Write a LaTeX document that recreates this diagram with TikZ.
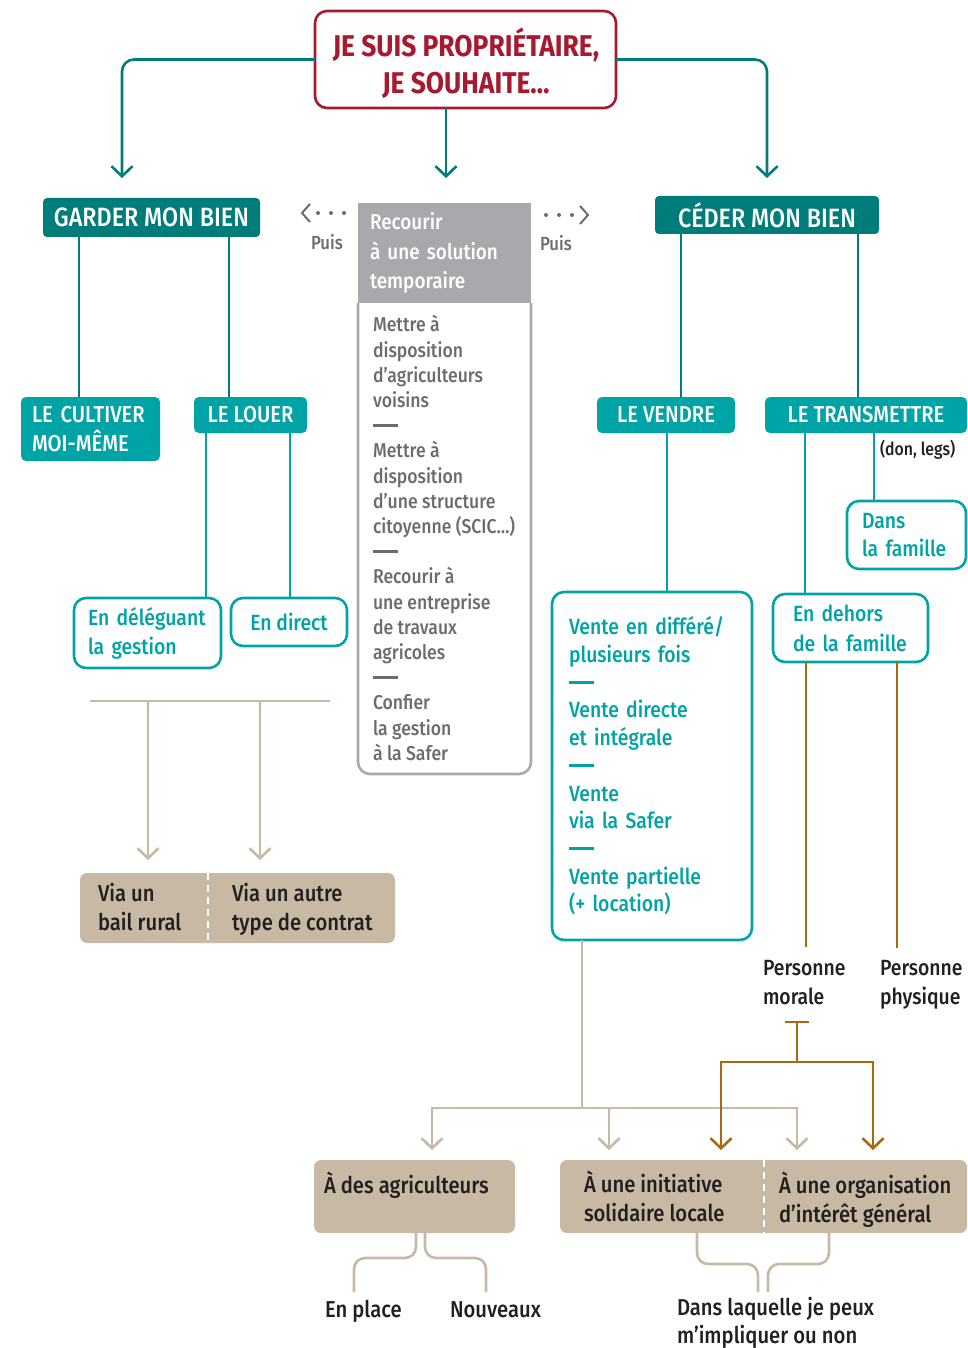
\documentclass[tikz,border=0pt]{standalone}
\usepackage{fontspec}
\setmainfont{Fira Sans Medium}[FakeStretch=0.88, BoldFont={Fira Sans Bold}, BoldFeatures={FakeStretch=0.88}]
\usetikzlibrary{arrows.meta}
\definecolor{dred}{RGB}{166,25,46}
\definecolor{dteal}{RGB}{0,125,122}
\definecolor{lteal}{RGB}{0,163,166}
\definecolor{gbox}{RGB}{167,169,172}
\definecolor{gtxt}{RGB}{108,108,110}
\definecolor{beige}{RGB}{199,185,163}
\definecolor{brown}{RGB}{170,105,15}
\definecolor{dtxt}{RGB}{35,31,32}
\newcommand{\fsz}[2]{\fontsize{#1}{#2}\selectfont}
\newcommand{\sepdash}[1]{\textcolor{#1}{\rule[0.3em]{25pt}{2.4pt}}}
\begin{document}
\begin{tikzpicture}[x=1pt,y=-1pt,
  every node/.style={outer sep=0pt},
  lw/.style={line width=2.6pt},
  tip/.style={-{Straight Barb[length=10pt,width=21pt]}},
  titlebox/.style={draw=dred, line width=2.6pt, rounded corners=12pt, fill=white,
     minimum width=301pt, minimum height=97pt},
  titletxt/.style={text=dred, font=\bfseries\fsz{30}{37}, align=center, inner sep=0pt},
  darkhead/.style={fill=dteal, text=white, rounded corners=4pt, font=\fsz{26.5}{30}, inner sep=0pt, anchor=north west},
  lighthead/.style={fill=lteal, text=white, rounded corners=5pt, font=\fsz{23}{29}, inner sep=0pt, anchor=north west},
  outbox/.style={draw=lteal, line width=2.6pt, rounded corners=12pt, fill=white, text=lteal,
     font=\fsz{22}{29}, align=left, anchor=north west, inner ysep=0pt},
  beigebox/.style={fill=beige, rounded corners=7pt, anchor=north west, inner sep=0pt},
  btxt/.style={text=dtxt, font=\fsz{23}{29.5}, align=left, anchor=west, inner sep=0pt},
  bbase/.style={btxt, anchor=base west},
  gtext/.style={text=gtxt, font=\fsz{19}{24}, inner sep=0pt},
  tline/.style={dteal, lw},
  ltline/.style={lteal, lw},
  bline/.style={beige, lw},
  brline/.style={brown, lw},
  gline/.style={gtxt, line width=4pt, line cap=round},
  wdash/.style={white, line width=2.2pt, dash pattern=on 7pt off 5pt}
]
\useasboundingbox (0,0) rectangle (967,1348);

% ---------- top ----------
\node[titlebox] (top) at (465.5,59.5) {};
\node[titletxt] (toptxt) at (466,63) {JE SUIS PROPRIÉTAIRE,\\JE SOUHAITE…};
\node[darkhead, minimum width=217pt, minimum height=39pt] (garder) at (43,198) {GARDER MON BIEN};
\node[darkhead, minimum width=224pt, minimum height=38pt] (ceder) at (655,196) {CÉDER MON BIEN};

\coordinate (aG) at (122,178);
\coordinate (aM) at (446,178);
\coordinate (aC) at (767,178);
\draw[tline, tip, rounded corners=12pt] (top.west) -| (aG);
\draw[tline, tip, rounded corners=12pt] (top.east) -| (aC);
\draw[tline, tip] (aM |- top.south) -- (aM);

% ---------- temporary solution ----------
\node[fill=gbox, anchor=north west, minimum width=173pt, minimum height=100pt, inner xsep=12pt, inner ysep=0pt,
      text width=149pt, align=left, text=white, font=\fsz{21.5}{29.5}] (grhead) at (358,203)
      {Recourir\\à une solution\\temporaire};
\node[anchor=north west, minimum width=173pt, minimum height=471pt, inner sep=0pt] (grbody) at (358,303) {};
\draw[gbox, lw, rounded corners=12pt] (grbody.north west) -- (grbody.south west) -- (grbody.south east) -- (grbody.north east);
\node[anchor=west, inner sep=0pt, align=left, text=gtxt, font=\fsz{20}{25.2}] (grtxt) at (373,538)
      {Mettre à\\disposition\\d’agriculteurs\\voisins\\\sepdash{gtxt}\\Mettre à\\disposition\\d’une structure\\citoyenne (SCIC…)\\\sepdash{gtxt}\\Recourir à\\une entreprise\\de travaux\\agricoles\\\sepdash{gtxt}\\Confier\\la gestion\\à la Safer};

\coordinate (pl1) at (344,213);
\coordinate (pl2) at (318,213);
\coordinate (plt) at (302,213);
\coordinate (plu) at (310,204);
\coordinate (pld) at (310,222);
\draw[gline, dash pattern=on 0pt off 13pt] (pl1) -- (pl2);
\draw[gtxt, line width=2pt] (plu) -- (plt) -- (pld);
\node[gtext, anchor=west] (puisL) at (311,242) {Puis};
\coordinate (pr1) at (546,215);
\coordinate (pr2) at (572,215);
\coordinate (prt) at (588,215);
\coordinate (pru) at (580,206);
\coordinate (prd) at (580,224);
\draw[gline, dash pattern=on 0pt off 13pt] (pr1) -- (pr2);
\draw[gtxt, line width=2pt] (pru) -- (prt) -- (prd);
\node[gtext, anchor=west] (puisR) at (540,243) {Puis};

% ---------- garder branch ----------
\node[lighthead, minimum height=64pt, text width=117pt, inner xsep=11pt, align=left] (cultiver) at (21,397) {LE CULTIVER\\MOI-MÊME};
\node[lighthead, minimum width=113pt, minimum height=36pt] (louer) at (194,397) {LE LOUER};
\coordinate (x79) at (79,0);
\coordinate (x229) at (229,0);
\draw[tline] (x79 |- garder.south) -- (x79 |- cultiver.north);
\draw[tline] (x229 |- garder.south) -- (x229 |- louer.north);

\node[outbox, minimum height=70pt, text width=119pt, inner xsep=14pt] (deleg) at (74,598) {En déléguant\\la gestion};
\node[outbox, minimum width=116pt, minimum height=48pt, align=center, inner xsep=0pt] (direct) at (231,598) {En direct};
\coordinate (x206) at (206,0);
\coordinate (x290) at (290,0);
\draw[ltline] (x206 |- louer.south) -- (x206 |- deleg.north);
\draw[ltline] (x290 |- louer.south) -- (x290 |- direct.north);

\coordinate (bbL) at (90,701);
\coordinate (bbR) at (330,701);
\coordinate (ba1) at (148,860);
\coordinate (ba2) at (260,860);
\draw[bline] (bbL) -- (bbR);
\draw[bline, tip] (ba1 |- bbL) -- (ba1);
\draw[bline, tip] (ba2 |- bbL) -- (ba2);
\node[beigebox, minimum width=315pt, minimum height=70pt] (via) at (80,873) {};
\coordinate (x208) at (208,0);
\draw[wdash] (x208 |- via.north) -- (x208 |- via.south);
\node[bbase] (bail) at (98,930.5) {Via un\\bail rural};
\node[bbase] (contrat) at (232,930.5) {Via un autre\\type de contrat};

% ---------- ceder branch ----------
\node[lighthead, minimum width=138pt, minimum height=36pt] (vendre) at (597,397) {LE VENDRE};
\node[lighthead, minimum width=202pt, minimum height=36pt] (transm) at (765,397) {LE TRANSMETTRE};
\coordinate (x681) at (681,0);
\coordinate (x858) at (858,0);
\draw[tline] (x681 |- ceder.south) -- (x681 |- vendre.north);
\draw[tline] (x858 |- ceder.south) -- (x858 |- transm.north);
\node[text=dtxt, font=\fsz{18}{20}, inner sep=0pt, anchor=west] (donlegs) at (880,450) {(don, legs)};

\node[outbox, minimum height=348pt, text width=166pt, inner xsep=17pt, font=\fsz{22}{27.7}] (vente) at (552,592)
  {Vente en différé/\\plusieurs fois\\\sepdash{lteal}\\Vente directe\\et intégrale\\\sepdash{lteal}\\Vente\\via la Safer\\\sepdash{lteal}\\Vente partielle\\(+ location)};
\node[outbox, minimum height=68pt, text width=89pt, inner xsep=15pt, font=\fsz{22}{28}] (dans) at (847,501) {Dans\\la famille};
\node[outbox, minimum height=68pt, text width=115pt, inner xsep=20pt, font=\fsz{22}{30}] (dehors) at (773,594) {En dehors\\de la famille};
\coordinate (x667) at (667,0);
\coordinate (x805) at (805,0);
\coordinate (x874) at (874,0);
\draw[ltline] (x667 |- vendre.south) -- (x667 |- vente.north);
\draw[ltline] (x805 |- transm.south) -- (x805 |- dehors.north);
\draw[ltline] (x874 |- transm.south) -- (x874 |- dans.north);

% brown lines to persons
\coordinate (pm) at (806,947);
\coordinate (pp) at (897,948);
\draw[brline] (pm |- dehors.south) -- (pm);
\draw[brline] (pp |- dehors.south) -- (pp);
\node[bbase, font=\fsz{22}{29.5}] (pmor) at (763,1004.5) {Personne\\morale};
\node[bbase, font=\fsz{22}{29.5}] (pphy) at (880,1004.5) {Personne\\physique};

% beige from vente
\coordinate (j1) at (582,1108);
\coordinate (aa1) at (432,1150);
\coordinate (aa2) at (609,1150);
\coordinate (aa3) at (797,1150);
\draw[bline] (j1 |- vente.south) -- (j1);
\draw[bline, tip] (j1) -| (aa1);
\draw[bline, tip] (j1) -| (aa3);
\draw[bline, tip] (aa2 |- j1) -- (aa2);

% brown T
\coordinate (t1) at (785,1022);
\coordinate (t2) at (809,1022);
\coordinate (tm) at (797,1022);
\coordinate (tj) at (797,1062);
\coordinate (ab1) at (721,1150);
\coordinate (ab2) at (873,1150);
\draw[brline] (t1) -- (t2);
\draw[brline] (tm) -- (tj);
\draw[brline, tip] (tj) -| (ab1);
\draw[brline, tip] (tj) -| (ab2);

% bottom boxes
\node[beigebox, minimum width=201pt, minimum height=73pt] (agri) at (314,1160) {};
\node[bbase] (agritxt) at (324,1193) {À des agriculteurs};
\node[beigebox, minimum width=407pt, minimum height=73pt] (orgs) at (560,1160) {};
\coordinate (x764) at (764,0);
\draw[wdash] (x764 |- orgs.north) -- (x764 |- orgs.south);
\node[bbase] (initxt) at (584,1221.5) {À une initiative\\solidaire locale};
\node[bbase] (orgtxt) at (779,1222.5) {À une organisation\\d’intérêt général};

% brackets
\coordinate (q1) at (416,0);
\coordinate (q2) at (425,0);
\coordinate (q3) at (697,0);
\coordinate (q4) at (829,0);
\draw[bline, rounded corners=11pt] (q1 |- agri.south) -- (416,1258) -- (354,1258) -- (354,1292);
\draw[bline, rounded corners=11pt] (q2 |- agri.south) -- (425,1258) -- (486,1258) -- (486,1292);
\draw[bline, rounded corners=11pt] (q3 |- orgs.south) -- (697,1264) -- (758,1264) -- (758,1292);
\draw[bline, rounded corners=11pt] (q4 |- orgs.south) -- (829,1264) -- (768,1264) -- (768,1292);
\node[bbase] (enplace) at (325,1317) {En place};
\node[bbase] (nouveaux) at (450,1317) {Nouveaux};
\node[bbase, font=\fsz{23}{28.5}] (dansq) at (677,1343.5) {Dans laquelle je peux\\m’impliquer ou non};
\end{tikzpicture}
\end{document}
